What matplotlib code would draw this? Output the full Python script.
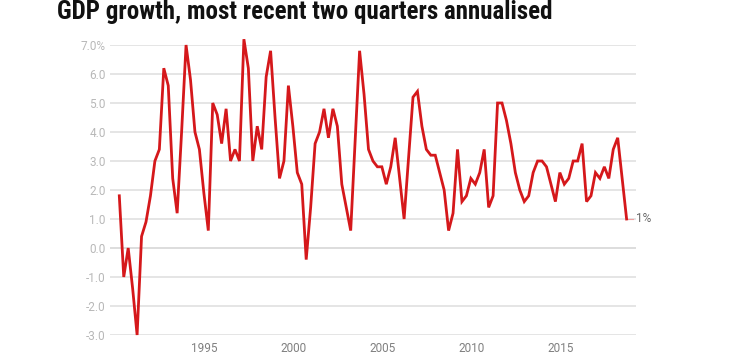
import matplotlib
matplotlib.use("Agg")
import matplotlib.pyplot as plt
from matplotlib import font_manager

# ---- data ----
start_year = 1990.2          # first quarter position
gdp_growth = [
    1.8, -1.0, 0.0, -1.4, -3.0, 0.4, 0.9, 1.8, 3.0, 3.4,
    6.2, 5.6, 2.4, 1.2, 4.0, 7.0, 5.8, 4.0, 3.4, 1.9,
    0.6, 5.0, 4.6, 3.6, 4.8, 3.0, 3.4, 3.0, 7.2, 6.2,
    3.0, 4.2, 3.4, 5.9, 6.8, 4.5, 2.4, 3.0, 5.6, 4.2,
    2.6, 2.2, -0.4, 1.4, 3.6, 4.0, 4.8, 3.8, 4.8, 4.2,
    2.2, 1.4, 0.6, 3.7, 6.8, 5.3, 3.4, 3.0, 2.8, 2.8,
    2.2, 2.8, 3.8, 2.4, 1.0, 3.1, 5.2, 5.4, 4.2, 3.4,
    3.2, 3.2, 2.6, 2.0, 0.6, 1.2, 3.4, 1.6, 1.8, 2.4,
    2.2, 2.6, 3.4, 1.4, 1.8, 5.0, 5.0, 4.4, 3.6, 2.6,
    2.0, 1.6, 1.8, 2.6, 3.0, 3.0, 2.8, 2.2, 1.6, 2.6,
    2.2, 2.4, 3.0, 3.0, 3.6, 1.6, 1.8, 2.6, 2.4, 2.8,
    2.4, 3.4, 3.8, 2.4, 1.0,
]
x_years = [start_year + 0.25 * i for i in range(len(gdp_growth))]
x_ticks = [1995, 2000, 2005, 2010, 2015]
y_ticks = [7.0, 6.0, 5.0, 4.0, 3.0, 2.0, 1.0, 0.0, -1.0, -2.0, -3.0]
y_tick_labels = ["7.0%", "6.0", "5.0", "4.0", "3.0", "2.0", "1.0", "0.0", "-1.0", "-2.0", "-3.0"]
title = "GDP growth, most recent two quarters annualised"
end_label = "1%"

avail = {f.name for f in font_manager.fontManager.ttflist}
body_font = "Roboto" if "Roboto" in avail else "DejaVu Sans"
title_font = body_font
for cand in ["Roboto Condensed", "Liberation Sans Narrow", "DejaVu Sans Condensed"]:
    if cand in avail:
        title_font = cand
        break
plt.rcParams["font.family"] = [body_font, "DejaVu Sans"]

W, H = 754, 358
fig = plt.figure(figsize=(W / 100, H / 100), dpi=100)
L, R, T, B = 110, 636, 45, 335
ax = fig.add_axes([L / W, 1 - B / H, (R - L) / W, (B - T) / H])

line_color = "#d5181b"
ax.plot(x_years, gdp_growth, color=line_color, linewidth=2.0, clip_on=False, zorder=3,
        solid_joinstyle="miter")

ax.set_ylim(-3.0, 7.0)
px_per_year = 17.8
x0 = start_year - (119.3 - L) / px_per_year
x1 = x0 + (R - L) / px_per_year
ax.set_xlim(x0, x1)

ax.set_yticks(y_ticks)
ax.set_yticklabels(y_tick_labels)
ax.set_xticks(x_ticks)
ax.set_xticklabels([str(t) for t in x_ticks])

for s in ax.spines.values():
    s.set_visible(False)
ax.tick_params(axis="y", length=0, pad=3, labelsize=8.5, labelcolor="#b8b8b8")
ax.tick_params(axis="x", length=0, pad=5, labelsize=8.5, labelcolor="#808080")
for lab in ax.get_yticklabels() + ax.get_xticklabels():
    lab.set_fontfamily(body_font)

ax.grid(axis="y", color="#e3e3e3", linewidth=1.3, zorder=0)
ax.grid(axis="x", visible=False)
ax.axhline(0, color="#8c8c8c", linewidth=1.1, zorder=1)

# end label
ax.plot([x_years[-1] + 0.1, x_years[-1] + 0.35], [gdp_growth[-1]] * 2, color="#f0a0a0",
        linewidth=0.8, clip_on=False)
ax.text(x_years[-1] + 0.55, gdp_growth[-1], end_label, fontsize=8.5, color="#666666",
        va="center", ha="left", clip_on=False)

fig.text(57 / W, 1 - 0 / H, title, fontsize=18, fontweight="bold", family=[title_font, "DejaVu Sans"],
         va="top", ha="left", color="#111111")

fig.savefig("out.png", dpi=100)
